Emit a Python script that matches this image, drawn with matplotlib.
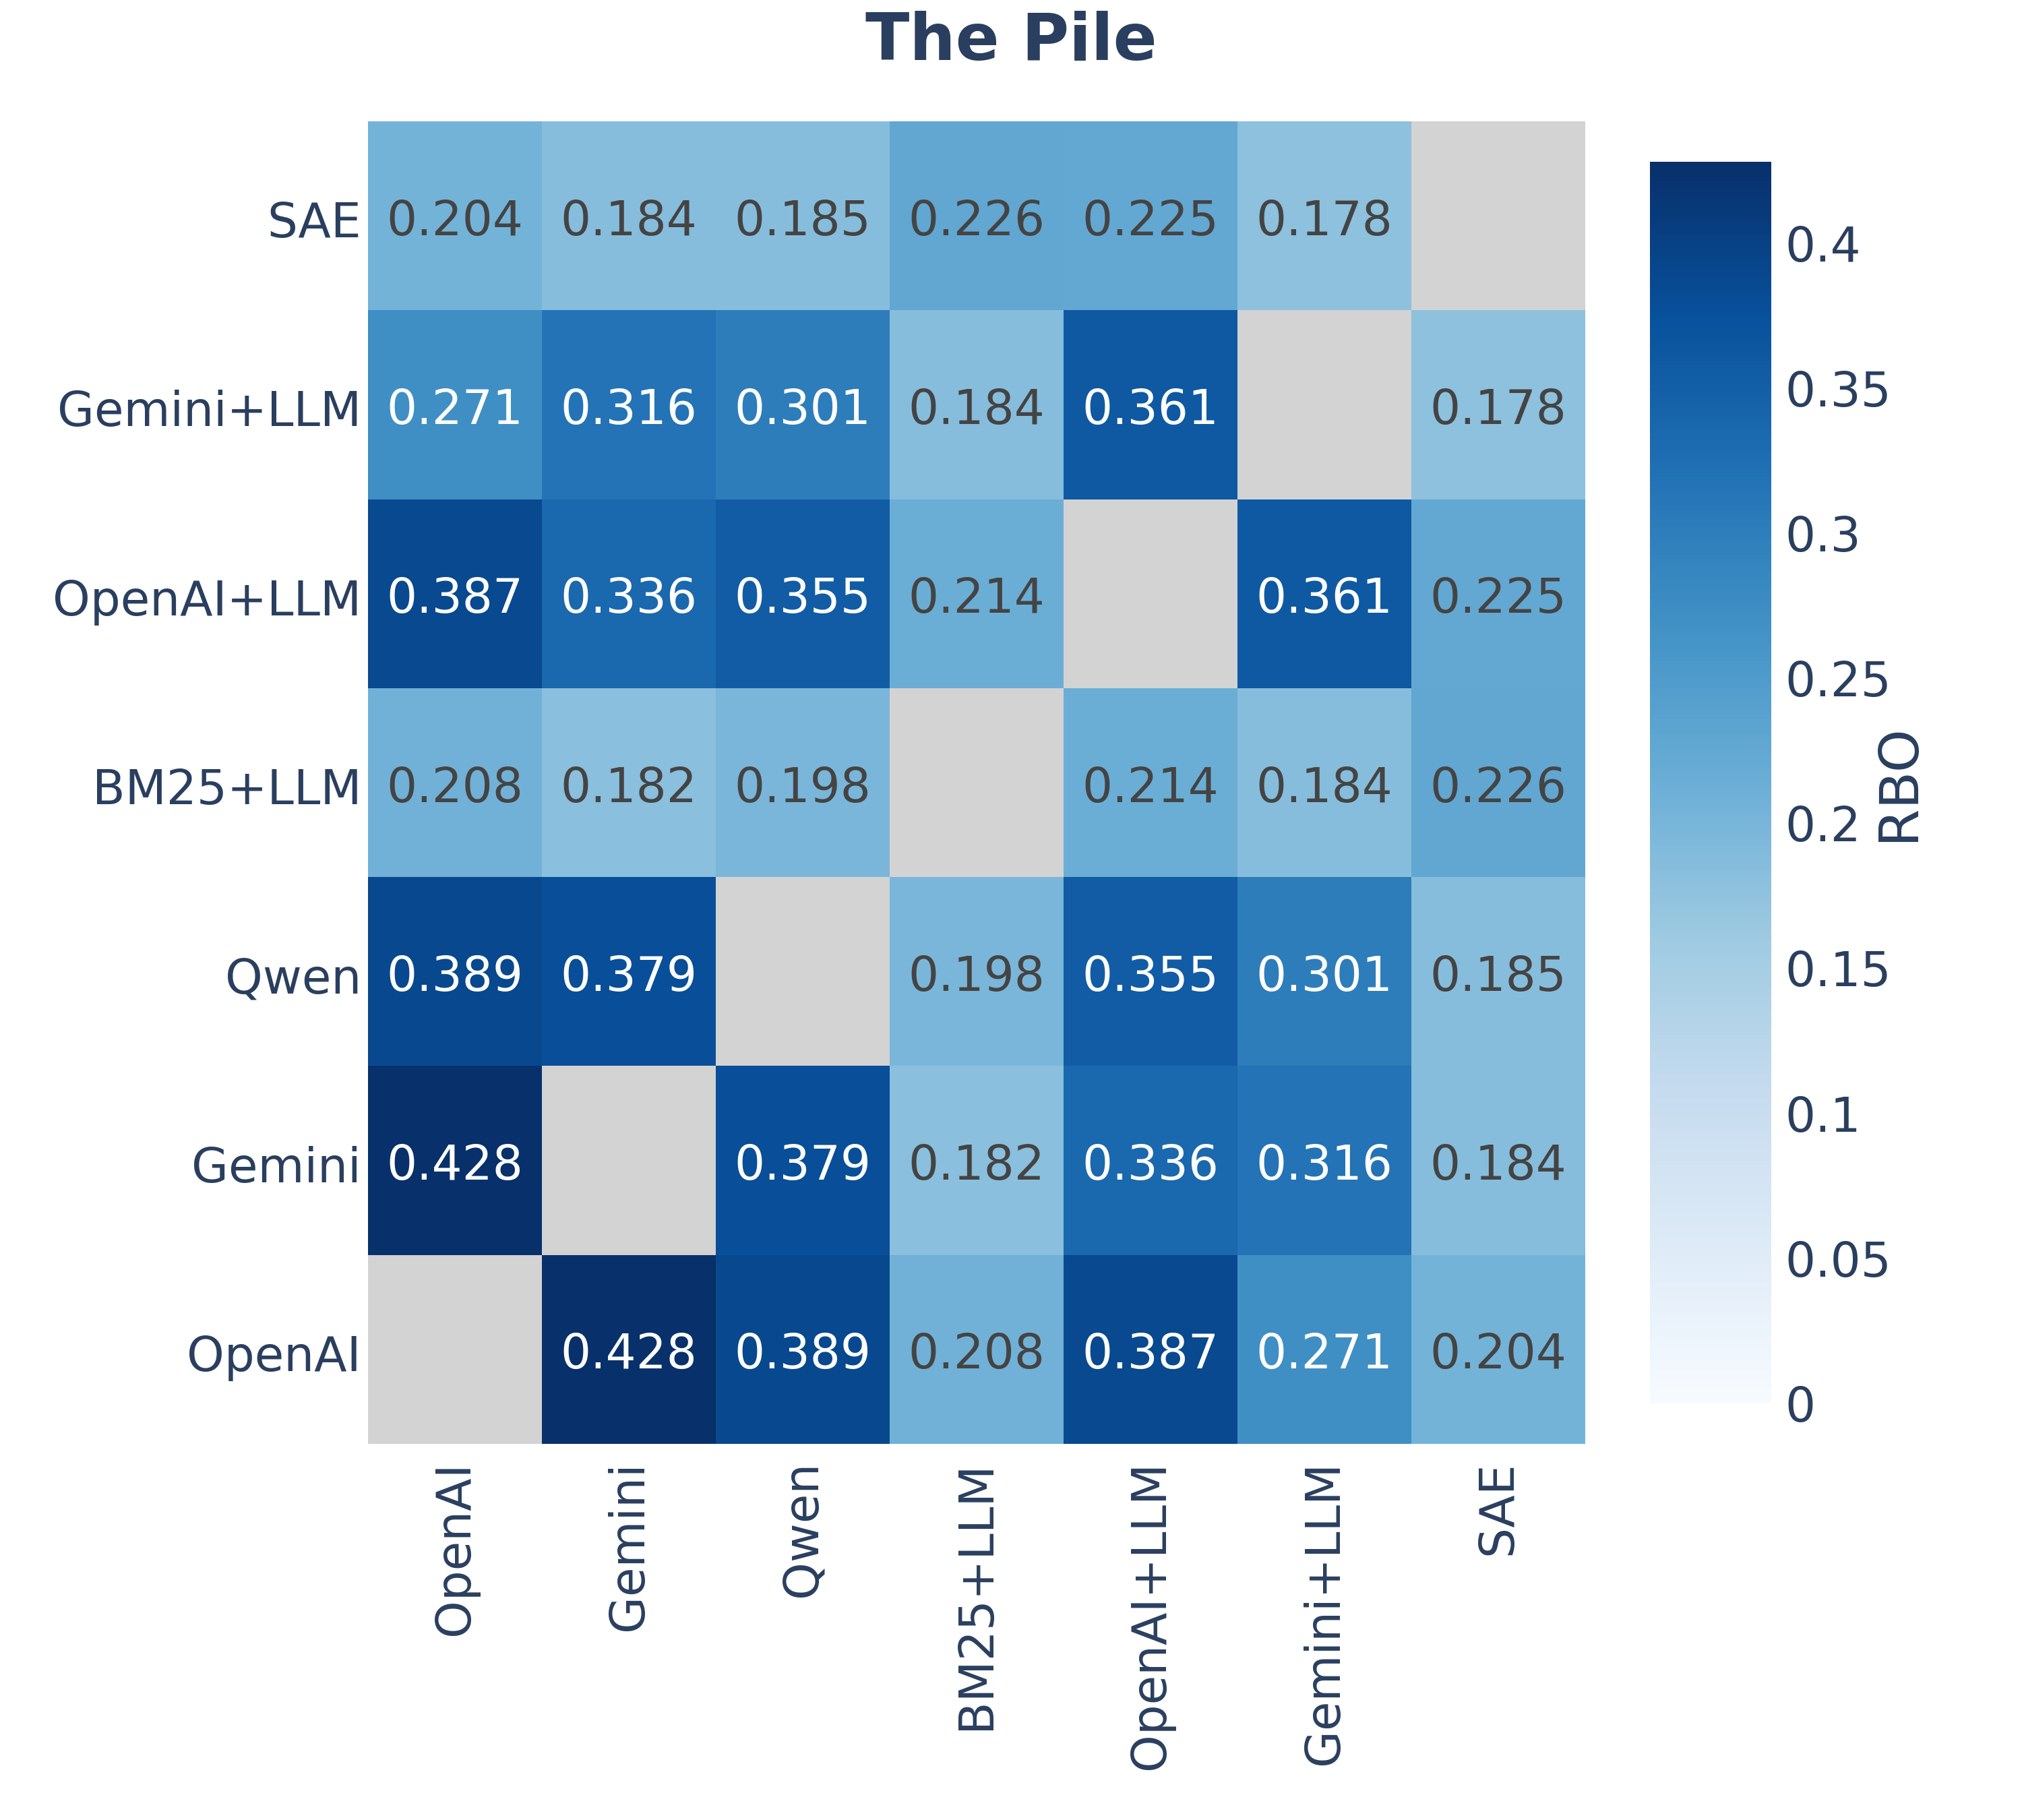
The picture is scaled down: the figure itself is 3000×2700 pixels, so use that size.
import numpy as np
import matplotlib
matplotlib.use("Agg")
import matplotlib.pyplot as plt
import matplotlib.transforms as mtransforms

# -------------------------------------------------------------------
# 1. DATA (RBO overlap between retrieval methods, The Pile)
# -------------------------------------------------------------------
methods = ["OpenAI", "Gemini", "Qwen", "BM25+LLM", "OpenAI+LLM", "Gemini+LLM", "SAE"]

# one row per method, bottom row first (OpenAI at the bottom)
row_openai = [np.nan, 0.428, 0.389, 0.208, 0.387, 0.271, 0.204]
row_gemini = [0.428, np.nan, 0.379, 0.182, 0.336, 0.316, 0.184]
row_qwen = [0.389, 0.379, np.nan, 0.198, 0.355, 0.301, 0.185]
row_bm25 = [0.208, 0.182, 0.198, np.nan, 0.214, 0.184, 0.226]
row_openai_llm = [0.387, 0.336, 0.355, 0.214, np.nan, 0.361, 0.225]
row_gemini_llm = [0.271, 0.316, 0.301, 0.184, 0.361, np.nan, 0.178]
row_sae = [0.204, 0.184, 0.185, 0.226, 0.225, 0.178, np.nan]

cbar_ticks = [0, 0.05, 0.1, 0.15, 0.2, 0.25, 0.3, 0.35, 0.4]
cbar_ticklabels = ["0", "0.05", "0.1", "0.15", "0.2", "0.25", "0.3", "0.35", "0.4"]

rbo = np.array([row_openai, row_gemini, row_qwen, row_bm25,
                row_openai_llm, row_gemini_llm, row_sae])

# -------------------------------------------------------------------
# 2. PLOT
# -------------------------------------------------------------------
text_col = "#2a3f5f"
plt.rcParams["font.family"] = "DejaVu Sans"

fig = plt.figure(figsize=(10, 9), dpi=300)
ax = fig.add_axes([0.182, 0.2067, 0.602, 0.7266])
ax.set_facecolor("#d3d3d3")

vmax = np.nanmax(rbo)
masked = np.ma.masked_invalid(rbo)
n = len(methods)
mesh = ax.pcolormesh(np.arange(n + 1), np.arange(n + 1), masked,
                     cmap="Blues", vmin=0, vmax=vmax)

# plotly puts the cell text a little below the cell centre
cell_shift = mtransforms.ScaledTranslation(0, -2.2 / 72, fig.dpi_scale_trans)
label_shift = mtransforms.ScaledTranslation(0, -1.2 / 72, fig.dpi_scale_trans)

for i in range(n):
    for j in range(n):
        v = rbo[i, j]
        if np.isnan(v):
            continue
        col = "white" if v > 0.25 else "#444444"
        ax.text(j + 0.5, i + 0.5, f"{v:.3f}", ha="center", va="center",
                fontsize=17, color=col, transform=ax.transData + cell_shift)

ax.set_xlim(0, n)
ax.set_ylim(0, n)
ax.set_xticks(np.arange(n) + 0.5)
ax.set_yticks(np.arange(n) + 0.5)
ax.set_xticklabels(methods, rotation=90, fontsize=17, color=text_col)
ax.set_yticklabels(methods, fontsize=17, color=text_col)
ax.tick_params(axis="both", length=0)
ax.tick_params(axis="x", pad=6)
ax.tick_params(axis="y", pad=2.4)
for lbl in ax.get_yticklabels():
    lbl.set_transform(lbl.get_transform() + label_shift)
for s in ax.spines.values():
    s.set_visible(False)

# colorbar
cax = fig.add_axes([0.816, 0.2289, 0.060, 0.6822])
cb = fig.colorbar(mesh, cax=cax)
cb.outline.set_visible(False)
cb.set_ticks(cbar_ticks)
cb.set_ticklabels(cbar_ticklabels)
cax.tick_params(length=0, labelsize=17, labelcolor=text_col, pad=5)
cb.set_label("RBO", fontsize=19.5, color=text_col)
cax.yaxis.set_label_coords(2.05, 0.5)
cax.yaxis.label.set_va("center")

fig.text(0.5, 0.967, "The Pile", ha="center", va="baseline",
         fontsize=23, fontweight="bold", color=text_col)

fig.savefig("out.png", dpi=300, facecolor="white")
